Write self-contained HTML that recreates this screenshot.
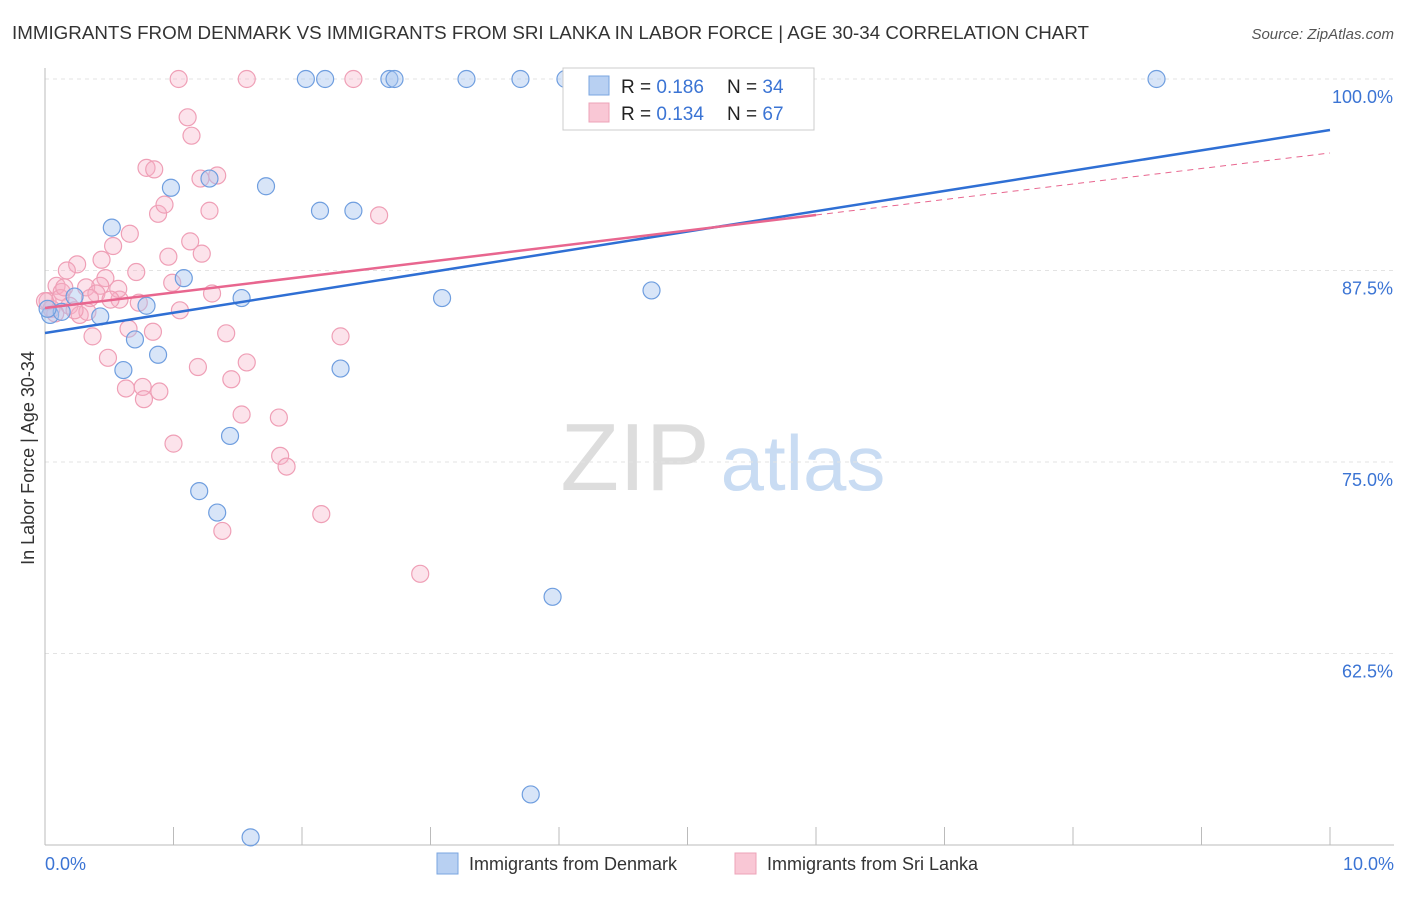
<!DOCTYPE html>
<html><head><meta charset="utf-8"><style>
body{margin:0;background:#fff;font-family:"Liberation Sans",sans-serif}
svg text{font-family:"Liberation Sans",sans-serif}
</style></head><body>
<svg id="chart" width="1406" height="892">
<text x="12" y="39" font-size="18" fill="#333" textLength="1077" lengthAdjust="spacingAndGlyphs">IMMIGRANTS FROM DENMARK VS IMMIGRANTS FROM SRI LANKA IN LABOR FORCE | AGE 30-34 CORRELATION CHART</text>
<text x="1394" y="39" font-size="15" fill="#555" font-style="italic" text-anchor="end">Source: ZipAtlas.com</text>
<text x="34" y="458" font-size="18" fill="#333" text-anchor="middle" transform="rotate(-90 34 458)">In Labor Force | Age 30-34</text>
<g><text x="635" y="490" font-size="96" fill="#ddd" font-family="Liberation Serif" text-anchor="middle">ZIP</text><text x="803" y="490" font-size="78" fill="#c9dcf3" text-anchor="middle">atlas</text></g>
<g id="grid"></g><g id="axes"></g><g id="pts"></g><g id="lines"></g>
<g>
<rect x="563" y="68" width="251" height="62" fill="#fff" stroke="#ccc"/>
<rect x="589" y="76" width="20" height="19" fill="#b8d0f2" stroke="#7aa6e0"/>
<rect x="589" y="103" width="20" height="19" fill="#f9c7d5" stroke="#eda3b8"/>
<text x="621" y="93" font-size="19" fill="#222">R = <tspan fill="#3b74d4">0.186</tspan></text>
<text x="727" y="93" font-size="19" fill="#222">N = <tspan fill="#3b74d4">34</tspan></text>
<text x="621" y="120" font-size="19" fill="#222">R = <tspan fill="#3b74d4">0.134</tspan></text>
<text x="727" y="120" font-size="19" fill="#222">N = <tspan fill="#3b74d4">67</tspan></text>
</g>
<g>
<rect x="437" y="853" width="21" height="21" fill="#b8d0f2" stroke="#7aa6e0"/>
<text x="469" y="870" font-size="18" fill="#333">Immigrants from Denmark</text>
<rect x="735" y="853" width="21" height="21" fill="#f9c7d5" stroke="#eda3b8"/>
<text x="767" y="870" font-size="18" fill="#333">Immigrants from Sri Lanka</text>
</g>
<text x="45" y="870" font-size="18" fill="#3b74d4">0.0%</text>
<text x="1394" y="870" font-size="18" fill="#3b74d4" text-anchor="end">10.0%</text>
</svg>
<script>
const yTicks=[100,87.5,75,62.5];
const yTickLabels=["100.0%","87.5%","75.0%","62.5%"];
const blueX=[2.03,2.18,2.68,2.72,3.28,3.70,4.05,8.65,0.98,1.28,1.72,2.14,2.40,0.52,1.08,1.53,3.09,4.72,0.04,0.13,0.23,0.43,0.79,0.70,0.88,0.61,2.30,1.44,1.20,1.34,3.95,3.78,1.60,0.02];
const blueY=[100,100,100,100,100,100,100,100,92.9,93.5,93.0,91.4,91.4,90.3,87.0,85.7,85.7,86.2,84.6,84.8,85.8,84.5,85.2,83.0,82.0,81.0,81.1,76.7,73.1,71.7,66.2,53.3,50.5,85.0];
const pinkX=[1.04,1.57,2.40,1.11,1.14,0.79,0.85,1.21,1.34,0.88,0.93,1.28,2.60,0.53,0.66,1.13,1.22,0.96,0.25,0.17,0.44,0.47,0.71,0.99,0.43,0.32,0.09,0.13,0.58,0.73,1.30,0.57,0.40,0.02,0.05,0.19,0.27,0.33,1.05,0.65,0.84,1.41,2.30,0.37,0.49,1.19,1.57,1.45,0.63,0.76,0.77,0.89,1.53,1.82,1.00,1.83,1.88,2.15,1.38,2.92,0.12,0.00,0.23,0.35,0.51,0.15,0.08];
const pinkY=[100,100,100,97.5,96.3,94.2,94.1,93.5,93.7,91.2,91.8,91.4,91.1,89.1,89.9,89.4,88.6,88.4,87.9,87.5,88.2,87.0,87.4,86.7,86.5,86.4,86.5,86.1,85.6,85.4,86.0,86.3,86.0,85.5,85.0,85.2,84.6,84.8,84.9,83.7,83.5,83.4,83.2,83.2,81.8,81.2,81.5,80.4,79.8,79.9,79.1,79.6,78.1,77.9,76.2,75.4,74.7,71.6,70.5,67.7,85.7,85.5,84.9,85.7,85.6,86.4,84.7];
const blueTrend=[83.42,96.67];
const pinkTrend=[85.05,95.17];
const pinkSolidEnd=6;
const X0=45,X1=1330,Y100=79,PX125=191.5;
const sx=v=>X0+(X1-X0)*v/10;
const sy=v=>Y100+(100-v)/12.5*PX125;
const NS="http://www.w3.org/2000/svg";
function mk(tag,attrs,parent){const e=document.createElementNS(NS,tag);for(const k in attrs)e.setAttribute(k,attrs[k]);document.getElementById(parent).appendChild(e);return e;}
yTicks.forEach((t,i)=>{
 const l=mk('line',{x1:X0,x2:1394,y1:sy(t),y2:sy(t),stroke:'#e3e3e3','stroke-dasharray':'4 4'},'grid');
 
 
 const tx=mk('text',{x:1393,y:sy(t)+24,'font-size':18,fill:'#3b74d4','text-anchor':'end'},'grid');
 tx.textContent=yTickLabels[i];
 
 
});
const ax=mk('line',{x1:X0,x2:X0,y1:68,y2:845,stroke:'#bbb'},'axes');


const bx=mk('line',{x1:X0,x2:1394,y1:845,y2:845,stroke:'#bbb'},'axes');


for(let i=0;i<=10;i++){const t=mk('line',{x1:sx(i),x2:sx(i),y1:827,y2:845,stroke:'#bbb'},'axes');
 
 }
pinkX.forEach((v,i)=>{const c=mk('circle',{cx:sx(v),cy:sy(pinkY[i]),r:8.5,fill:'rgba(246,176,197,0.35)',stroke:'#ef9fb6','stroke-width':1.2},'pts');
 
 });
blueX.forEach((v,i)=>{const c=mk('circle',{cx:sx(v),cy:sy(blueY[i]),r:8.5,fill:'rgba(168,198,240,0.45)',stroke:'#6f9edf','stroke-width':1.2},'pts');
 
 });
const bl=mk('line',{x1:sx(0),y1:sy(blueTrend[0]),x2:sx(10),y2:sy(blueTrend[1]),stroke:'#2f6fd4','stroke-width':2.5},'lines');


const pAt=x=>pinkTrend[0]+(pinkTrend[1]-pinkTrend[0])*x/10;
const pl=mk('line',{x1:sx(0),y1:sy(pAt(0)),x2:sx(pinkSolidEnd),y2:sy(pAt(pinkSolidEnd)),stroke:'#e8668f','stroke-width':2.5},'lines');


const pd=mk('line',{x1:sx(pinkSolidEnd),y1:sy(pAt(pinkSolidEnd)),x2:sx(10),y2:sy(pAt(10)),stroke:'#e8668f','stroke-width':1,'stroke-dasharray':'6 5'},'lines');


</script>
</body></html>
